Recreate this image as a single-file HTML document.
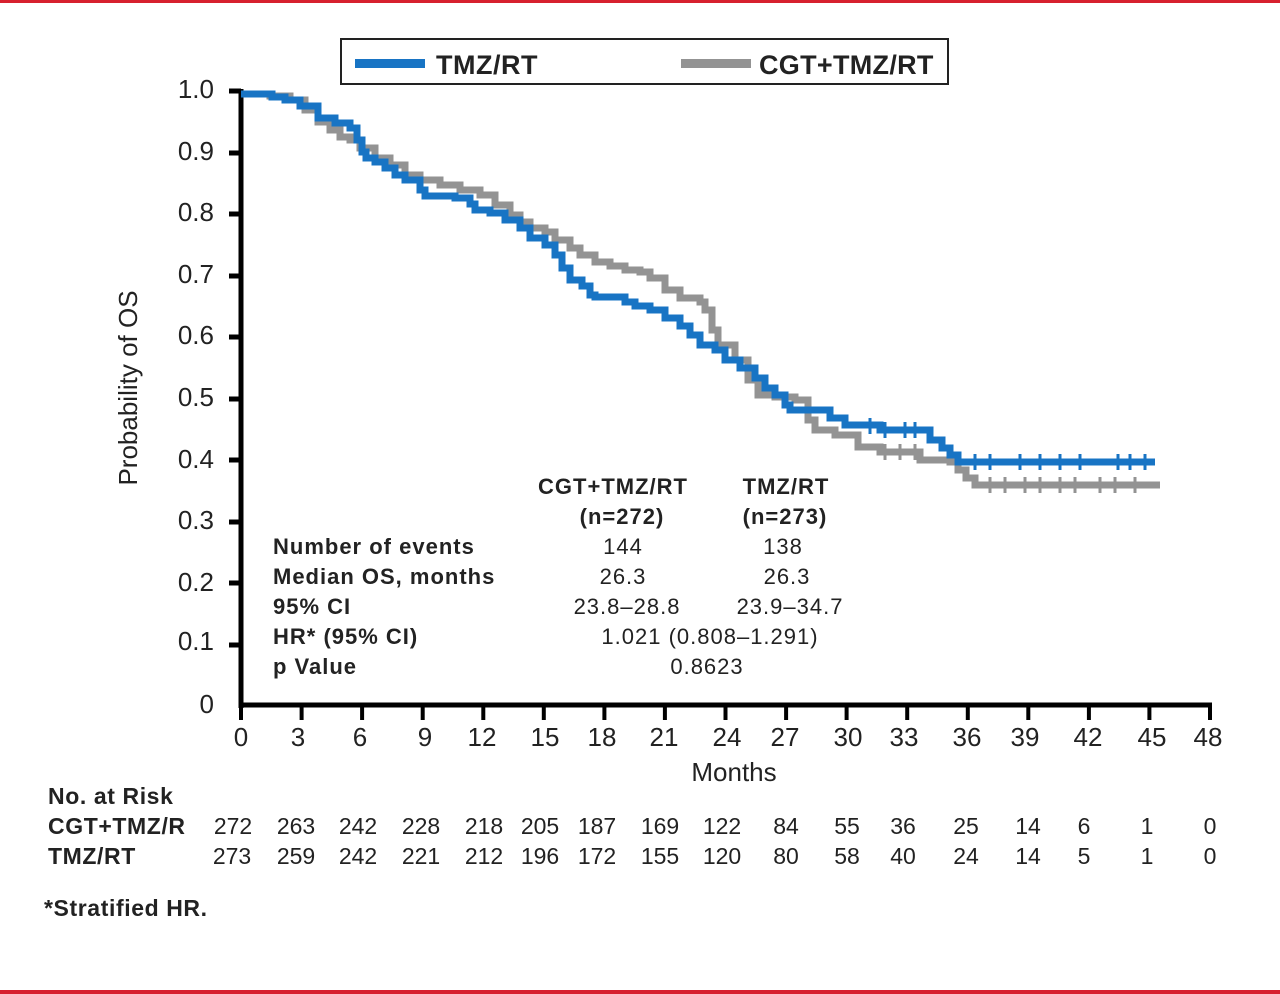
<!DOCTYPE html>
<html><head><meta charset="utf-8"><style>
body{margin:0;background:#fff;}
svg{display:block;font-family:"Liberation Sans",Arial,sans-serif;}
</style></head><body>
<svg width="1280" height="994" viewBox="0 0 1280 994" xmlns="http://www.w3.org/2000/svg">
<rect x="0" y="0" width="1280" height="3" fill="#d7202f"/>
<rect x="0" y="990" width="1280" height="4" fill="#d7202f"/>
<!-- legend -->
<rect x="341" y="39" width="607" height="45" fill="#fff" stroke="#222" stroke-width="2"/>
<rect x="355" y="59" width="70" height="9" fill="#1874c4"/>
<text x="436" y="74" font-size="27" font-weight="bold" fill="#222" letter-spacing="0.5">TMZ/RT</text>
<rect x="681" y="59" width="70" height="9" fill="#939393"/>
<text x="759" y="74" font-size="27" font-weight="bold" fill="#222" letter-spacing="0.3">CGT+TMZ/RT</text>
<!-- y axis -->
<g font-size="26" fill="#222" text-anchor="end">
<text x="214" y="98">1.0</text><text x="214" y="160">0.9</text><text x="214" y="221">0.8</text>
<text x="214" y="283">0.7</text><text x="214" y="344">0.6</text><text x="214" y="406">0.5</text>
<text x="214" y="468">0.4</text><text x="214" y="529">0.3</text><text x="214" y="591">0.2</text>
<text x="214" y="650">0.1</text><text x="214" y="713">0</text>
</g>
<g stroke="#000" stroke-width="5">
<line x1="241" y1="89" x2="241" y2="708"/>
<line x1="239" y1="705" x2="1212" y2="705"/>
<line x1="229" y1="91" x2="241" y2="91"/><line x1="229" y1="153" x2="241" y2="153"/>
<line x1="229" y1="214" x2="241" y2="214"/><line x1="229" y1="276" x2="241" y2="276"/>
<line x1="229" y1="337" x2="241" y2="337"/><line x1="229" y1="399" x2="241" y2="399"/>
<line x1="229" y1="460" x2="241" y2="460"/><line x1="229" y1="522" x2="241" y2="522"/>
<line x1="229" y1="583" x2="241" y2="583"/><line x1="229" y1="645" x2="241" y2="645"/>
</g>
<text x="137" y="388" font-size="26" fill="#222" text-anchor="middle" transform="rotate(-90 137 388)">Probability of OS</text>
<!-- x ticks -->
<g stroke="#000" stroke-width="4">
<line x1="241" y1="705" x2="241" y2="720"/><line x1="301.6" y1="705" x2="301.6" y2="720"/><line x1="362.1" y1="705" x2="362.1" y2="720"/><line x1="422.7" y1="705" x2="422.7" y2="720"/><line x1="483.3" y1="705" x2="483.3" y2="720"/><line x1="543.8" y1="705" x2="543.8" y2="720"/><line x1="604.4" y1="705" x2="604.4" y2="720"/><line x1="664.9" y1="705" x2="664.9" y2="720"/><line x1="725.5" y1="705" x2="725.5" y2="720"/><line x1="786.1" y1="705" x2="786.1" y2="720"/><line x1="846.6" y1="705" x2="846.6" y2="720"/><line x1="907.2" y1="705" x2="907.2" y2="720"/><line x1="967.8" y1="705" x2="967.8" y2="720"/><line x1="1028.3" y1="705" x2="1028.3" y2="720"/><line x1="1088.9" y1="705" x2="1088.9" y2="720"/><line x1="1149.4" y1="705" x2="1149.4" y2="720"/><line x1="1210" y1="705" x2="1210" y2="720"/>
</g>
<g font-size="26" fill="#222" text-anchor="middle">
<text x="241" y="746">0</text><text x="298" y="746">3</text><text x="360" y="746">6</text><text x="425" y="746">9</text><text x="482" y="746">12</text><text x="545" y="746">15</text><text x="602" y="746">18</text><text x="664" y="746">21</text><text x="727" y="746">24</text><text x="785" y="746">27</text><text x="848" y="746">30</text><text x="904" y="746">33</text><text x="967" y="746">36</text><text x="1025" y="746">39</text><text x="1088" y="746">42</text><text x="1152" y="746">45</text><text x="1208" y="746">48</text>
<text x="734" y="781">Months</text>
</g>
<!-- curves -->
<polyline fill="none" stroke="#939393" stroke-width="7" points="241,94 270,94 270,96 290,96 290,100 305,100 305,110 318,110 318,122 330,122 330,130 340,130 340,137 350,137 350,140 360,140 360,148 375,148 375,158 390,158 390,165 405,165 405,175 420,175 420,180 440,180 440,185 460,185 460,190 480,190 480,195 495,195 495,205 510,205 510,215 520,215 520,222 530,222 530,228 545,228 545,232 555,232 555,240 570,240 570,248 580,248 580,255 595,255 595,262 610,262 610,266 625,266 625,270 640,270 640,272 650,272 650,278 665,278 665,290 680,290 680,298 700,298 700,302 705,302 705,310 712,310 712,330 718,330 718,345 735,345 735,360 748,360 748,380 758,380 758,395 775,395 775,397 795,397 795,400 808,400 808,420 815,420 815,430 835,430 835,435 858,435 858,447 880,447 880,452 920,452 920,460 950,460 950,462 958,462 958,470 966,470 966,478 975,478 975,485 1160,485"/>
<polyline fill="none" stroke="#1874c4" stroke-width="7" points="241,94 272,94 272,97 285,97 285,100 300,100 300,106 318,106 318,118 335,118 335,123 350,123 350,128 357,128 357,140 362,140 362,152 366,152 366,158 375,158 375,162 385,162 385,168 395,168 395,175 405,175 405,180 420,180 420,190 425,190 425,196 455,196 455,198 470,198 470,204 475,204 475,210 490,210 490,213 505,213 505,220 520,220 520,228 530,228 530,238 545,238 545,245 555,245 555,255 562,255 562,268 570,268 570,280 582,280 582,286 590,286 590,295 595,295 595,297 625,297 625,302 635,302 635,306 650,306 650,310 665,310 665,318 680,318 680,326 690,326 690,335 700,335 700,345 715,345 715,350 725,350 725,360 740,360 740,368 755,368 755,378 765,378 765,388 775,388 775,395 785,395 785,405 790,405 790,410 830,410 830,418 845,418 845,425 880,425 880,430 930,430 930,440 942,440 942,448 950,448 950,455 958,455 958,462 1155,462"/>
<g stroke="#1874c4" stroke-width="3">
<line x1="975" y1="454" x2="975" y2="470"/><line x1="990" y1="454" x2="990" y2="470"/><line x1="1020" y1="454" x2="1020" y2="470"/><line x1="1040" y1="454" x2="1040" y2="470"/><line x1="1060" y1="454" x2="1060" y2="470"/><line x1="1080" y1="454" x2="1080" y2="470"/><line x1="1118" y1="454" x2="1118" y2="470"/><line x1="1130" y1="454" x2="1130" y2="470"/><line x1="1145" y1="454" x2="1145" y2="470"/>
<line x1="870" y1="418" x2="870" y2="434"/><line x1="885" y1="422" x2="885" y2="438"/><line x1="905" y1="422" x2="905" y2="438"/><line x1="915" y1="422" x2="915" y2="438"/>
</g>
<g stroke="#939393" stroke-width="3">
<line x1="990" y1="477" x2="990" y2="493"/><line x1="1005" y1="477" x2="1005" y2="493"/><line x1="1025" y1="477" x2="1025" y2="493"/><line x1="1040" y1="477" x2="1040" y2="493"/><line x1="1060" y1="477" x2="1060" y2="493"/><line x1="1075" y1="477" x2="1075" y2="493"/><line x1="1100" y1="477" x2="1100" y2="493"/><line x1="1115" y1="477" x2="1115" y2="493"/><line x1="1135" y1="477" x2="1135" y2="493"/>
<line x1="885" y1="444" x2="885" y2="460"/><line x1="900" y1="444" x2="900" y2="460"/><line x1="915" y1="444" x2="915" y2="460"/>
</g>
<!-- table -->
<g font-size="22" fill="#222" letter-spacing="1">
<g font-weight="bold" text-anchor="middle">
<text x="613" y="494">CGT+TMZ/RT</text><text x="622" y="524">(n=272)</text>
<text x="786" y="494">TMZ/RT</text><text x="785" y="524">(n=273)</text>
</g>
<g font-weight="bold">
<text x="273" y="554">Number of events</text>
<text x="273" y="584">Median OS, months</text>
<text x="273" y="614">95% CI</text>
<text x="273" y="644">HR* (95% CI)</text>
<text x="273" y="674">p Value</text>
</g>
<g text-anchor="middle">
<text x="623" y="554">144</text><text x="783" y="554">138</text>
<text x="623" y="584">26.3</text><text x="787" y="584">26.3</text>
<text x="627" y="614">23.8–28.8</text><text x="790" y="614">23.9–34.7</text>
<text x="710" y="644">1.021 (0.808–1.291)</text>
<text x="707" y="674">0.8623</text>
</g>
</g>
<!-- at risk -->
<g font-size="23" fill="#222">
<g font-weight="bold" letter-spacing="0.6">
<text x="48" y="804">No. at Risk</text>
<text x="48" y="834">CGT+TMZ/R</text>
<text x="48" y="864">TMZ/RT</text>
<text x="44" y="916">*Stratified HR.</text>
</g>
<g text-anchor="middle">
<text x="233" y="834">272</text><text x="296" y="834">263</text><text x="358" y="834">242</text><text x="421" y="834">228</text><text x="484" y="834">218</text><text x="540" y="834">205</text><text x="597" y="834">187</text><text x="660" y="834">169</text><text x="722" y="834">122</text><text x="786" y="834">84</text><text x="847" y="834">55</text><text x="903" y="834">36</text><text x="966" y="834">25</text><text x="1028" y="834">14</text><text x="1084" y="834">6</text><text x="1147" y="834">1</text><text x="1210" y="834">0</text>
<text x="232" y="864">273</text><text x="296" y="864">259</text><text x="358" y="864">242</text><text x="421" y="864">221</text><text x="484" y="864">212</text><text x="540" y="864">196</text><text x="597" y="864">172</text><text x="660" y="864">155</text><text x="722" y="864">120</text><text x="786" y="864">80</text><text x="847" y="864">58</text><text x="903" y="864">40</text><text x="966" y="864">24</text><text x="1028" y="864">14</text><text x="1084" y="864">5</text><text x="1147" y="864">1</text><text x="1210" y="864">0</text>
</g>
</g>
</svg>
</body></html>
